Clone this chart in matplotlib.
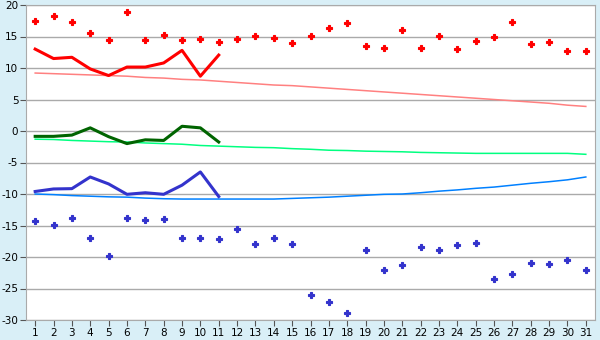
import matplotlib
matplotlib.use("Agg")
import matplotlib.pyplot as plt

plt.rcParams['axes.unicode_minus'] = False

# jours du mois
days = list(range(1, 32))
days_obs = list(range(1, 12))

# records (losanges)
rec_max = [17.5, 18.2, 17.3, 15.6, 14.5, 18.9, 14.5, 15.3, 14.5, 14.6, 14.15,
           14.6, 15.1, 14.8, 14.0, 15.15, 16.4, 17.2, 13.5, 13.2, 16.1, 13.2,
           15.1, 13.05, 14.3, 14.95, 17.3, 13.8, 14.15, 12.7, 12.7]
rec_min = [-14.3, -14.95, -13.85, -17.0, -19.85, -13.85, -14.15, -14.0, -17.0,
           -17.0, -17.15, -15.6, -18.0, -17.0, -18.0, -26.1, -27.2, -28.9,
           -18.9, -22.1, -21.3, -18.45, -18.9, -18.1, -17.8, -23.55, -22.75,
           -21.0, -21.15, -20.5, -22.1]

# normales (lignes fines)
norm_max = [9.2, 9.1, 9.0, 8.9, 8.8, 8.7, 8.5, 8.4, 8.2, 8.1, 7.9, 7.7, 7.5,
            7.3, 7.2, 7.0, 6.8, 6.6, 6.4, 6.2, 6.0, 5.8, 5.6, 5.4, 5.2, 5.0,
            4.8, 4.6, 4.4, 4.1, 3.9]
norm_moy = [-1.3, -1.35, -1.5, -1.6, -1.7, -1.75, -1.9, -2.0, -2.1, -2.3, -2.4,
            -2.5, -2.6, -2.65, -2.8, -2.9, -3.05, -3.1, -3.2, -3.25, -3.3,
            -3.4, -3.45, -3.5, -3.55, -3.55, -3.55, -3.55, -3.55, -3.55, -3.7]
norm_min = [-10.0, -10.1, -10.25, -10.35, -10.45, -10.5, -10.65, -10.75, -10.8,
            -10.8, -10.8, -10.8, -10.8, -10.8, -10.7, -10.6, -10.5, -10.35,
            -10.2, -10.05, -10.0, -9.8, -9.55, -9.35, -9.1, -8.9, -8.6, -8.3,
            -8.05, -7.75, -7.3]

# observations du mois (lignes épaisses)
obs_max = [13.0, 11.5, 11.7, 9.85, 8.8, 10.15, 10.15, 10.8, 12.8, 8.7, 12.05]
obs_moy = [-0.85, -0.85, -0.65, 0.5, -0.9, -2.0, -1.4, -1.5, 0.75, 0.5, -1.75]
obs_min = [-9.6, -9.2, -9.15, -7.3, -8.4, -10.05, -9.8, -10.05, -8.6, -6.5, -10.4]

fig = plt.figure(figsize=(6, 3.4), dpi=100, facecolor="#d9eff7")
ax = fig.add_axes([26 / 600, 20 / 340, 569 / 600, 315 / 340])
ax.set_facecolor("white")

ax.plot(days, norm_max, color="#ff8080", lw=1.1)
ax.plot(days, norm_moy, color="#00ff80", lw=1.1)
ax.plot(days, norm_min, color="#0080ff", lw=1.1)

ax.plot(days_obs, obs_max, color="#ff0000", lw=2.2)
ax.plot(days_obs, obs_moy, color="#006400", lw=2.2)
ax.plot(days_obs, obs_min, color="#3333cc", lw=2.2)

ax.plot(days, rec_max, ls="none", marker="P", ms=5, color="#ff0000", mew=0.8)
ax.plot(days, rec_min, ls="none", marker="P", ms=5, color="#3333cc", mew=0.8)

ax.set_xlim(0.5, 31.5)
ax.set_ylim(-30, 20)
ax.set_xticks(days)
ax.set_yticks(range(-30, 21, 5))
ax.yaxis.grid(True, color="#aaaaaa", lw=1)
ax.set_axisbelow(True)
for s in ax.spines.values():
    s.set_color("#aaaaaa")
ax.tick_params(colors="#555555", labelcolor="black", labelsize=7.5, length=4,
               direction="out", pad=1.5)

fig.savefig("out.png", dpi=100, facecolor=fig.get_facecolor())
